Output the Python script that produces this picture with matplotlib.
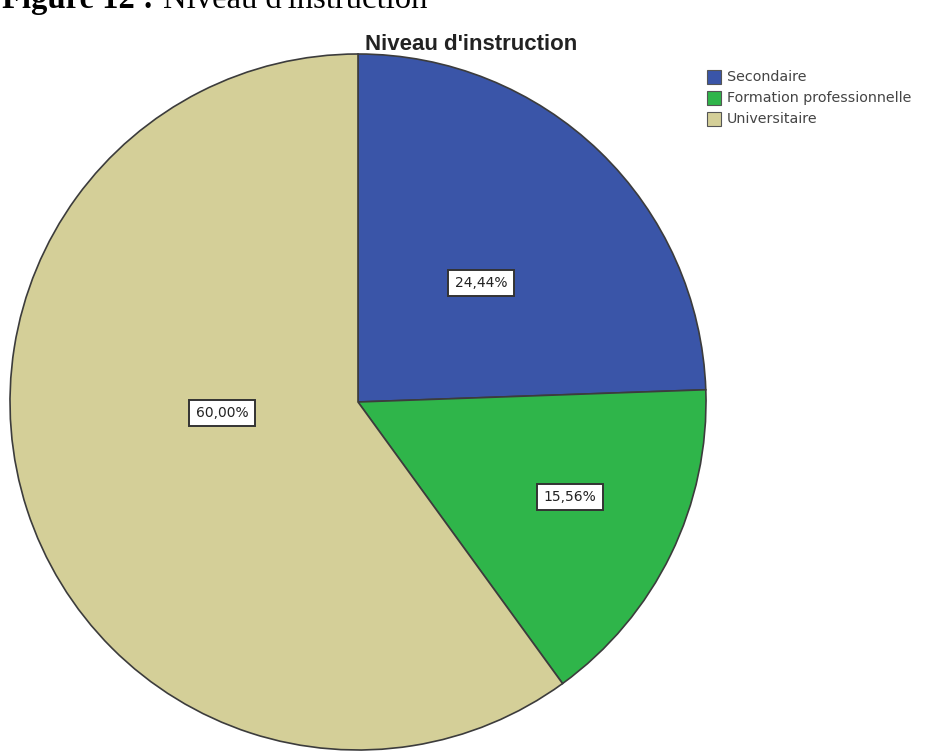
import matplotlib.pyplot as plt

# ---- data -----------------------------------------------------------------
categories = ['Secondaire', 'Formation professionnelle', 'Universitaire']
shares = [24.44, 15.56, 60.00]
pct_labels = ['24,44%', '15,56%', '60,00%']
colors = ['#3a55a8', '#2fb54a', '#d4cf98']

W, H = 928, 754
fig = plt.figure(figsize=(W / 100, H / 100), dpi=100)
ax = fig.add_axes([0, 0, 1, 1])

# pie, clockwise from 12 o'clock like SPSS
cx, cy, r = 358, H - 402, 348
wedges, _ = ax.pie(shares, colors=colors, startangle=90, counterclock=False,
                   center=(cx, cy), radius=r, frame=True,
                   wedgeprops=dict(edgecolor='#3c3c3c', linewidth=1.2))
ax.set_xlim(0, W)
ax.set_ylim(0, H)
ax.set_aspect('equal')
ax.axis('off')

# value boxes (placed where SPSS put them)
label_pos = [(481, 283), (570, 497), (222, 413)]
for txt, (px, py) in zip(pct_labels, label_pos):
    ax.text(px, H - py, txt, ha='center', va='center', fontsize=10,
            family='DejaVu Sans', color='#222222',
            bbox=dict(boxstyle='square,pad=0.45', fc='white', ec='#333333', lw=1.4))

# chart title
ax.text(471, H - 45, "Niveau d'instruction", ha='center', va='center',
        fontsize=16, fontweight='bold', family='Liberation Sans', color='#222222')

# legend
leg_y = [77, 98, 119]
for cat, col, ly in zip(categories, colors, leg_y):
    ax.add_patch(plt.Rectangle((707, H - ly - 7), 14, 14, fc=col, ec='#555555', lw=0.8))
    ax.text(727, H - ly, cat, ha='left', va='center', fontsize=10.3,
            family='DejaVu Sans', color='#444444')

# document caption, cut at the top edge as in the source page
fig.text(2 / W, 1 - 8 / H, 'Figure 12 :', ha='left', va='baseline',
         fontsize=23.5, fontweight='bold', family='Liberation Serif')
fig.text(163 / W, 1 - 8 / H, "Niveau d'instruction", ha='left', va='baseline',
         fontsize=23.5, family='Liberation Serif')

fig.savefig('out.png', dpi=100, facecolor='white')
